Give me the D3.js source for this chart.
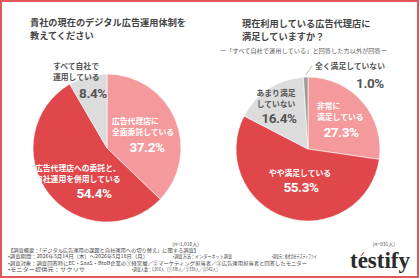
<!DOCTYPE html>
<html>
<head>
<meta charset="utf-8">
<script src="https://cdn.jsdelivr.net/npm/d3@7"></script>
<style>
  html, body { margin: 0; padding: 0; background: #fff; }
  #chart { width: 420px; height: 280px; }
</style>
</head>
<body>
<div id="chart"></div>
<script>
// left pie: current ad operation setup
const leftCategories = ["広告代理店に全面委託している", "広告代理店への委託と、自社運用を併用している", "すべて自社で運用している"];
const leftValues = [37.2, 54.4, 8.4];
const leftLabelLines = [["広告代理店に", "全面委託している"], ["広告代理店への委託と、", "自社運用を併用している"], ["すべて自社で", "運用している"]];

// right pie: satisfaction with agency
const rightCategories = ["非常に満足している", "やや満足している", "あまり満足していない", "全く満足していない"];
const rightValues = [27.3, 55.3, 16.4, 1.0];
const rightLabelLines = [["非常に", "満足している"], ["やや満足している"], ["あまり満足", "していない"], ["全く満足していない"]];

const leftTitle = ["貴社の現在のデジタル広告運用体制を", "教えてください"];
const rightTitle = ["現在利用している広告代理店に", "満足していますか？"];
const rightSubtitle = "ー「すべて自社で運用している」と回答した方以外が回答ー";
const leftN = "(n=1,016人)";
const rightN = "(n=931人)";
const notes = [
    ["【調査概要：「デジタル広告運用の課題と自社運用への切り替え」に関する調査】"],
    ["•調査期間：2026年5月14日（木）〜2026年5月18日（月）", "•調査方法：インターネット調査", "•調査元：株式会社テスティファイ"],
    ["•調査対象：調査回答時にEC・SaaS・BtoB企業の①経営層／②マーケティング担当者／③広告運用担当者と回答したモニター"],
    ["•モニター提供元：サクリサ", "•調査人数：1,016人（①336人／②338人／③342人）"]
];

const width = 420, height = 280;
const jp = "'Noto Sans CJK JP', 'Noto Sans', sans-serif";
const num = "Roboto, 'DejaVu Sans', sans-serif";

const svg = d3.select("#chart").append("svg")
    .attr("width", width)
    .attr("height", height);

svg.append("rect")
    .attr("width", width).attr("height", height)
    .attr("fill", "#fff");

// outer frame
svg.append("rect")
    .attr("x", 1).attr("y", 1)
    .attr("width", 417).attr("height", 276)
    .attr("fill", "none")
    .attr("stroke", "#e0585a")
    .attr("stroke-width", 2);

function drawTitle(lines, x, y0) {
    lines.forEach((t, i) => {
        svg.append("text")
            .attr("x", x).attr("y", y0 + i * 13.5)
            .attr("font-family", jp)
            .attr("font-weight", 700)
            .attr("font-size", 9.2)
            .attr("fill", "#444")
            .text(t);
    });
}
drawTitle(leftTitle, 30, 25.5);
drawTitle(rightTitle, 242, 26.5);

svg.append("text")
    .attr("x", 220).attr("y", 50)
    .attr("dominant-baseline", "central")
    .attr("font-family", jp)
    .attr("font-size", 5.2)
    .attr("textLength", 167)
    .attr("lengthAdjust", "spacingAndGlyphs")
    .attr("fill", "#555")
    .text(rightSubtitle);

function drawPie(opts) {
    const pie = d3.pie().sort(null).value(d => d);
    const arc = d3.arc().innerRadius(0).outerRadius(opts.r);
    const g = svg.append("g")
        .attr("transform", "translate(" + opts.cx + "," + opts.cy + ")");

    g.selectAll("path")
        .data(pie(opts.values))
        .enter()
        .append("path")
        .attr("d", arc)
        .attr("fill", (d, i) => opts.colors[i])
        .attr("stroke", "#fff")
        .attr("stroke-width", 0.6);

    opts.values.forEach((v, i) => {
        const lay = opts.layout[i];
        const fill = opts.textColors[i];
        opts.lines[i].forEach((t, j) => {
            svg.append("text")
                .attr("x", lay.lx)
                .attr("y", lay.ly + j * 11.5)
                .attr("text-anchor", lay.anchor)
                .attr("dominant-baseline", "central")
                .attr("font-family", jp)
                .attr("font-weight", 700)
                .attr("font-size", 7.8)
                .attr("fill", fill)
                .text(t);
        });
        svg.append("text")
            .attr("x", lay.px)
            .attr("y", lay.py)
            .attr("text-anchor", "middle")
            .attr("dominant-baseline", "central")
            .attr("font-family", num)
            .attr("font-weight", 700)
            .attr("font-size", 13.5)
            .attr("letter-spacing", -0.4)
            .attr("fill", fill)
            .text(d3.format(".1f")(v) + "%");
    });
    return { pie, arc, g };
}

drawPie({
    cx: 107, cy: 148, r: 74,
    values: leftValues,
    lines: leftLabelLines,
    colors: ["#f59a9c", "#e0474a", "#dcdcdc"],
    textColors: ["#fff", "#fff", "#555"],
    layout: [
        { lx: 112, ly: 120, anchor: "start", px: 147, py: 147 },
        { lx: 35, ly: 167, anchor: "start", px: 94, py: 193 },
        { lx: 53, ly: 65, anchor: "start", px: 93, py: 93 }
    ]
});

const right = drawPie({
    cx: 308, cy: 149, r: 72,
    values: rightValues,
    lines: rightLabelLines,
    colors: ["#f59a9c", "#e0474a", "#dcdcdc", "#9a9a9a"],
    textColors: ["#fff", "#fff", "#555", "#555"],
    layout: [
        { lx: 317, ly: 105, anchor: "start", px: 341, py: 132 },
        { lx: 300, ly: 172, anchor: "middle", px: 301, py: 187 },
        { lx: 276, ly: 92, anchor: "middle", px: 279, py: 118 },
        { lx: 315, ly: 65, anchor: "start", px: 370, py: 83 }
    ]
});

// leader line for the thin 1.0% slice
const small = right.pie(rightValues)[3];
const mid = (small.startAngle + small.endAngle) / 2;
const r0 = 72 + 2;
svg.append("line")
    .attr("x1", 308 + r0 * Math.sin(mid))
    .attr("y1", 149 - r0 * Math.cos(mid))
    .attr("x2", 312)
    .attr("y2", 66)
    .attr("stroke", "#888")
    .attr("stroke-width", 0.6);

// sample sizes
svg.append("text")
    .attr("x", 199).attr("y", 243)
    .attr("text-anchor", "end")
    .attr("dominant-baseline", "central")
    .attr("font-family", jp)
    .attr("font-size", 5)
    .attr("fill", "#444")
    .text(leftN);
svg.append("text")
    .attr("x", 395).attr("y", 243)
    .attr("text-anchor", "end")
    .attr("dominant-baseline", "central")
    .attr("font-family", jp)
    .attr("font-size", 5)
    .attr("fill", "#444")
    .text(rightN);

// survey notes (x start, width)
const noteX = [[8], [8, 173, 272], [8], [8, 132]];
const noteW = [[191], [140, 59, 45], [299], [77, 88]];
notes.forEach((row, i) => {
    row.forEach((t, j) => {
        svg.append("text")
            .attr("x", noteX[i][j])
            .attr("y", 249.3 + i * 6.4)
            .attr("dominant-baseline", "central")
            .attr("font-family", jp)
            .attr("font-size", 5)
            .attr("textLength", noteW[i][j])
            .attr("lengthAdjust", "spacingAndGlyphs")
            .attr("fill", "#444")
            .text(t);
    });
});

// logo
svg.append("text")
    .attr("x", 380).attr("y", 268)
    .attr("text-anchor", "middle")
    .attr("font-family", "'Liberation Serif', serif")
    .attr("font-weight", 700)
    .attr("font-size", 23)
    .attr("textLength", 60)
    .attr("fill", "#2b2b2b")
    .text("testify");
svg.append("path")
    .attr("d", "M360.5,255.5 L363.5,252 L364.5,252.8 L361.3,256 Z")
    .attr("fill", "#e0474a");
</script>
</body>
</html>
